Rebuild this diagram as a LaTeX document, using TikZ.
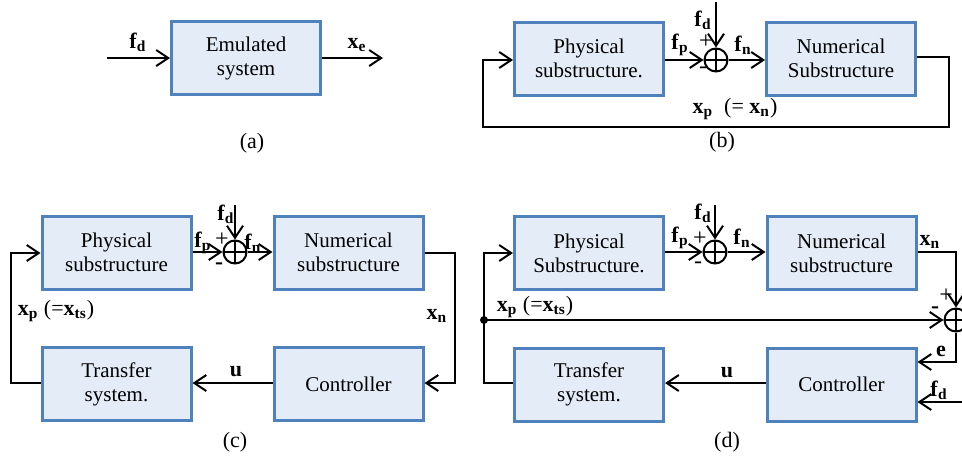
\documentclass[tikz,border=0pt]{standalone}
\usepackage{fontspec}
\setmainfont{Liberation Serif}
\usetikzlibrary{arrows.meta}
\definecolor{boxfill}{RGB}{228,236,247}
\definecolor{boxline}{RGB}{79,129,189}
\newcommand{\sigl}[2]{\textbf{#1}\textsubscript{\textbf{#2}}}

\begin{document}
\begin{tikzpicture}[x=0.5pt,y=-0.5pt,
  blk/.style={draw=boxline,fill=boxfill,line width=1.5pt,minimum width=74.5pt,minimum height=36.5pt,align=center,font=\fontsize{10.5}{12}\selectfont},
  sumnode/.style={circle,draw,line width=1pt,minimum size=11.5pt,inner sep=0pt,
    path picture={\draw[line width=0.8pt] (path picture bounding box.north) -- (path picture bounding box.south) (path picture bounding box.west) -- (path picture bounding box.east);}},
  wire/.style={line width=1pt},
  arr/.style={wire,-{Straight Barb[length=6pt,width=8pt]}},
  lbl/.style={inner sep=0pt,font=\fontsize{11}{12}\selectfont},
  sgn/.style={inner sep=0pt,font=\fontsize{12}{12}\selectfont},
  captxt/.style={font=\fontsize{11}{12}\selectfont}]

\useasboundingbox (0,0) rectangle (962,456);

% (a)
\node[blk] (emu) at (246,58) {Emulated\\system};
\coordinate (ain) at (107,58);
\coordinate (aout) at (383,58);
\draw[arr] (ain) -- (emu);
\draw[arr] (emu) -- (aout);
\node[lbl] (afd) at (138,42) {\sigl{f}{d}};
\node[lbl] (axe) at (357,45) {\sigl{x}{e}};
\node[captxt] (capa) at (252,143) {(a)};

% (b)
\node[blk] (bphy) at (589,58.5) {Physical\\substructure.};
\node[sumnode] (bsum) at (716,60) {};
\node[blk] (bnum) at (841,58.5) {Numerical\\Substructure};
\coordinate (bfd) at (716,2);
\coordinate (br1) at (949,57);
\coordinate (br2) at (949,127);
\coordinate (bl2) at (483,127);
\coordinate (bl1) at (483,60);
\draw[arr] (bfd) -- (bsum);
\draw[arr] (bphy.east |- bsum) -- (bsum);
\draw[arr] (bsum) -- (bsum -| bnum.west);
\draw[arr] (bnum.east |- br1) -- (br1) -- (br2) -- (bl2) -- (bl1) -- (bl1 -| bphy.west);
\node[lbl] (bfdl) at (703,20) {\sigl{f}{d}};
\node[sgn] (bplus) at (706,42) {+};
\node[sgn] (bminus) at (703,70) {-};
\node[lbl] (bfp) at (680,45) {\sigl{f}{p}};
\node[lbl] (bfn) at (743,45) {\sigl{f}{n}};
\node[lbl] (bxp) at (735,109) {\sigl{x}{p}\ \ (= \sigl{x}{n})};
\node[captxt] (capb) at (722,142) {(b)};

% (c)
\node[blk] (cphy) at (116.5,252.5) {Physical\\substructure};
\node[sumnode] (csum) at (235,252) {};
\node[blk] (cnum) at (348.5,252.5) {Numerical\\substructure};
\node[blk] (ctra) at (116.5,384) {Transfer\\system.};
\node[blk] (cctl) at (348.5,384) {Controller};
\coordinate (cfd) at (235,205);
\coordinate (cr1) at (455,253);
\coordinate (cr2) at (455,383);
\coordinate (cl2) at (11,383);
\coordinate (cl1) at (11,253);
\draw[arr] (cfd) -- (csum);
\draw[arr] (cphy.east |- csum) -- (csum);
\draw[arr] (csum) -- (csum -| cnum.west);
\draw[arr] (cnum.east |- cr1) -- (cr1) -- (cr2) -- (cr2 -| cctl.east);
\draw[arr] (cctl.west |- cr2) -- (cr2 -| ctra.east);
\draw[arr] (ctra.west |- cl2) -- (cl2) -- (cl1) -- (cl1 -| cphy.west);
\node[lbl] (cfdl) at (226,214) {\sigl{f}{d}};
\node[sgn] (cplus) at (222,240) {+};
\node[sgn] (cminus) at (219,266) {\textbf{-}};
\node[lbl] (cfp) at (203,243) {\sigl{f}{p}};
\node[lbl] (cfn) at (253,243) {\sigl{f}{n}};
\node[lbl] (cu) at (236,372) {\textbf{u}};
\node[lbl] (cxn) at (437,316) {\sigl{x}{n}};
\node[lbl] (cxp) at (56,311) {\sigl{x}{p} (=\sigl{x}{ts})};
\node[captxt] (capc) at (235,442) {(c)};

% (d)
\node[blk] (dphy) at (589,253) {Physical\\Substructure.};
\node[sumnode] (dsum) at (715,252) {};
\node[blk] (dnum) at (841.5,253) {Numerical\\substructure};
\node[blk] (dtra) at (589,384.5) {Transfer\\system.};
\node[blk] (dctl) at (841.5,384.5) {Controller};
\node[sumnode] (esum) at (956,320) {};
\coordinate (dfd) at (715,205);
\coordinate (dr1) at (956,252);
\coordinate (dr2) at (956,362);
\coordinate (dl2) at (484,383);
\coordinate (dl1) at (484,253);
\coordinate (dfd2) at (962,402);
\draw[arr] (dfd) -- (dsum);
\draw[arr] (dphy.east |- dsum) -- (dsum);
\draw[arr] (dsum) -- (dsum -| dnum.west);
\draw[arr] (dnum.east |- dr1) -- (dr1) -- (esum);
\draw[arr] (esum) -- (dr2) -- (dr2 -| dctl.east);
\draw[arr] (dfd2) -- (dfd2 -| dctl.east);
\draw[arr] (dctl.west |- dl2) -- (dl2 -| dtra.east);
\draw[arr] (dtra.west |- dl2) -- (dl2) -- (dl1) -- (dl1 -| dphy.west);
\fill (484,320) circle (2pt) coordinate (djn);
\draw[arr] (djn) -- (esum);
\node[lbl] (dfdl) at (703,213) {\sigl{f}{d}};
\node[sgn] (dplus) at (700,239) {+};
\node[sgn] (dminus) at (698,265) {-};
\node[lbl] (dfp) at (680,238) {\sigl{f}{p}};
\node[lbl] (dfn) at (742,238) {\sigl{f}{n}};
\node[lbl] (dxn) at (930,242) {\sigl{x}{n}};
\node[sgn] (eplus) at (946,296) {+};
\node[sgn] (eminus) at (935,310) {\textbf{-}};
\node[lbl] (de) at (941,351) {\textbf{e}};
\node[lbl] (dfd2l) at (939,390) {\sigl{f}{d}};
\node[lbl] (du) at (727,373) {\textbf{u}};
\node[lbl] (dxp) at (535,307) {\sigl{x}{p} (=\sigl{x}{ts})};
\node[captxt] (capd) at (727,442) {(d)};

\end{tikzpicture}
\end{document}
